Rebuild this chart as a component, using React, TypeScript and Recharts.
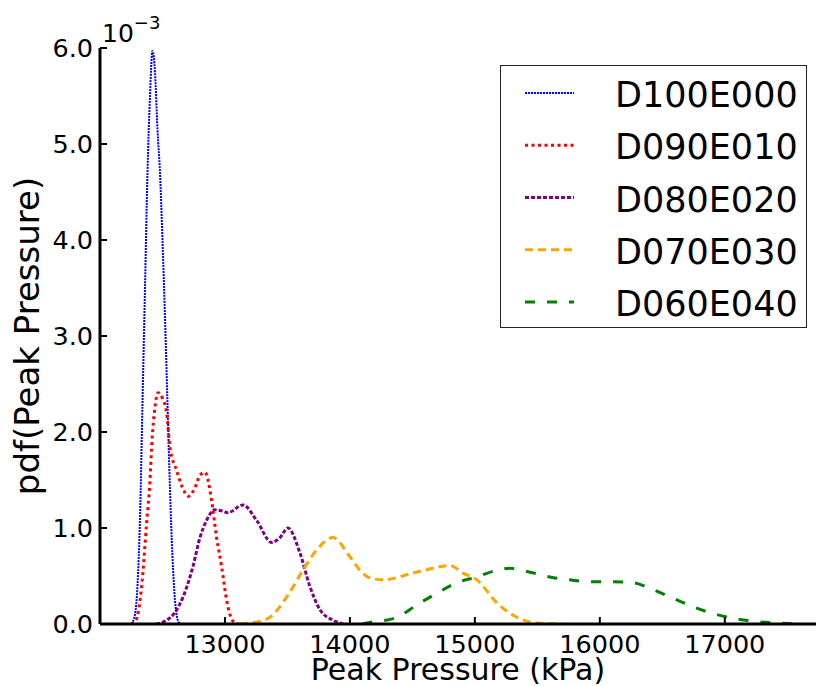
import React from 'react';
import { LineChart, Line, XAxis, YAxis, Legend } from 'recharts';

// axis setup
const xDomain = [12000, 17730];
const xTicks = [13000, 14000, 15000, 16000, 17000];
const yTicks = [0, 1, 2, 3, 4, 5, 6];

// pdf values, in units of 1e-3
const d100e000 = [
  [12250, 0], [12280, 0.1], [12300, 0.4], [12320, 1.1], [12340, 2.3],
  [12360, 3.5], [12380, 4.7], [12400, 5.5], [12420, 5.97], [12440, 5.75],
  [12460, 5.15], [12480, 4.7], [12500, 4.0], [12520, 3.2], [12540, 2.3],
  [12560, 1.4], [12580, 0.7], [12600, 0.25], [12620, 0.05], [12640, 0],
];

const d090e010 = [
  [12250, 0], [12288, 0.04], [12310, 0.15], [12333, 0.39], [12373, 1.05],
  [12400, 1.5], [12413, 1.84], [12440, 2.26], [12464, 2.41], [12500, 2.35],
  [12533, 2.2], [12560, 1.84], [12613, 1.6], [12660, 1.42], [12707, 1.33],
  [12760, 1.42], [12800, 1.55], [12840, 1.58], [12893, 1.29], [12933, 0.9],
  [12973, 0.6], [13013, 0.25], [13064, 0.03], [13110, 0],
];

const d080e020 = [
  [12450, 0], [12533, 0.04], [12600, 0.12], [12664, 0.28], [12744, 0.6],
  [12800, 0.9], [12853, 1.08], [12920, 1.19], [12970, 1.18], [13024, 1.16],
  [13144, 1.24], [13253, 1.08], [13373, 0.85], [13440, 0.9], [13504, 1.0],
  [13600, 0.74], [13680, 0.39], [13760, 0.15], [13864, 0.04], [13950, 0],
];

const d070e030 = [
  [13120, 0], [13200, 0.01], [13280, 0.03], [13360, 0.07], [13493, 0.28],
  [13624, 0.56], [13733, 0.77], [13864, 0.9], [14000, 0.7], [14080, 0.56],
  [14160, 0.48], [14264, 0.46], [14504, 0.53], [14664, 0.58], [14800, 0.61],
  [14904, 0.53], [15016, 0.46], [15176, 0.22], [15336, 0.07], [15496, 0.01],
  [15700, 0],
];

const d060e040 = [
  [14100, 0], [14136, 0.01], [14376, 0.07], [14536, 0.2], [14696, 0.32],
  [14856, 0.43], [15016, 0.49], [15176, 0.56], [15280, 0.58], [15440, 0.54],
  [15600, 0.49], [15760, 0.46], [15944, 0.44], [16104, 0.44], [16264, 0.43],
  [16424, 0.36], [16584, 0.27], [16744, 0.18], [16904, 0.11], [17064, 0.06],
  [17224, 0.03], [17416, 0.01], [17600, 0],
];

const series = [
  { name: 'D100E000', points: d100e000, color: '#0000ff', width: 2, dash: '2 1' },
  { name: 'D090E010', points: d090e010, color: '#ff0000', width: 3, dash: '3 3.5' },
  { name: 'D080E020', points: d080e020, color: '#800080', width: 3, dash: '4 2' },
  { name: 'D070E030', points: d070e030, color: '#ffa500', width: 3, dash: '8 5' },
  { name: 'D060E040', points: d060e040, color: '#008000', width: 3, dash: '10 12' },
];

const toRows = (pts: number[][]) => pts.map(([x, v]) => ({ x, v }));

const BottomTick = (props: any) => {
  const { x, y, payload } = props;
  return (
    <g>
      <line x1={x} y1={y} x2={x} y2={y - 7} stroke="#000" strokeWidth={2} />
      <text x={x} y={y + 29} textAnchor="middle" fontSize={25.5} fill="#000">
        {payload.value}
      </text>
    </g>
  );
};

const TopTick = (props: any) => {
  const { x, y } = props;
  return <line x1={x} y1={y} x2={x} y2={y + 7} stroke="#000" strokeWidth={2} />;
};

const LeftTick = (props: any) => {
  const { x, y, payload } = props;
  return (
    <g>
      <line x1={x} y1={y} x2={x + 7} y2={y} stroke="#000" strokeWidth={2} />
      <text x={x - 7} y={y} dy="0.36em" textAnchor="end" fontSize={25.5} fill="#000">
        {Number(payload.value).toFixed(1)}
      </text>
    </g>
  );
};

const LegendBox = () => (
  <svg width={307} height={263} style={{ display: 'block' }}>
    <rect x={0.5} y={0.5} width={306} height={262} fill="#fff" stroke="#222" strokeWidth={1} />
    {series.map((s, i) => {
      const cy = 28 + i * 52.25;
      return (
        <g key={s.name}>
          <line
            x1={25}
            x2={74}
            y1={cy}
            y2={cy}
            stroke={s.color}
            strokeWidth={s.width}
            strokeDasharray={s.dash}
          />
          <text x={115} y={cy + 14} fontSize={35} fill="#000">
            {s.name}
          </text>
        </g>
      );
    })}
  </svg>
);

export default function App() {
  return (
    <div
      style={{
        position: 'absolute',
        left: 0,
        top: 0,
        width: 816,
        height: 686,
        background: '#fff',
        fontFamily: '"DejaVu Sans", sans-serif',
      }}
    >
      <LineChart width={816} height={686} margin={{ top: 48, right: 0, bottom: 0, left: 0 }}>
        <XAxis
          dataKey="x"
          type="number"
          domain={xDomain}
          ticks={xTicks}
          allowDataOverflow
          height={62}
          tickSize={0}
          tickMargin={0}
          tick={BottomTick}
          axisLine={{ stroke: '#000', strokeWidth: 3 }}
          label={{
            value: 'Peak Pressure (kPa)',
            position: 'insideBottom',
            offset: 6,
            style: { fontSize: 30, fill: '#000' },
          }}
        />
        <XAxis
          xAxisId="top"
          orientation="top"
          dataKey="x"
          type="number"
          domain={xDomain}
          ticks={xTicks}
          allowDataOverflow
          height={0}
          tickSize={0}
          tickMargin={0}
          tick={TopTick}
          axisLine={{ stroke: '#000', strokeWidth: 3 }}
        />
        <YAxis
          type="number"
          domain={[0, 6]}
          ticks={yTicks}
          allowDataOverflow
          width={100}
          tickSize={0}
          tickMargin={0}
          tick={LeftTick}
          axisLine={{ stroke: '#000', strokeWidth: 3 }}
          label={{
            value: 'pdf(Peak Pressure)',
            angle: -90,
            position: 'insideLeft',
            offset: 27,
            style: { textAnchor: 'middle', fontSize: 34, fill: '#000' },
          }}
        />
        <Legend
          layout="vertical"
          align="center"
          verticalAlign="middle"
          wrapperStyle={{ left: 500, top: 65, width: 307, height: 263 }}
          content={LegendBox}
        />
        {series.map((s) => (
          <Line
            key={s.name}
            name={s.name}
            data={toRows(s.points)}
            dataKey="v"
            type="monotone"
            stroke={s.color}
            strokeWidth={s.width}
            strokeDasharray={s.dash}
            dot={false}
            activeDot={false}
            isAnimationActive={false}
          />
        ))}
      </LineChart>
      <div
        style={{
          position: 'absolute',
          left: 102,
          top: 12,
          fontSize: 25,
          lineHeight: '30px',
          color: '#000',
        }}
      >
        10<sup style={{ fontSize: 18, position: 'relative', top: -4 }}>−3</sup>
      </div>
    </div>
  );
}
